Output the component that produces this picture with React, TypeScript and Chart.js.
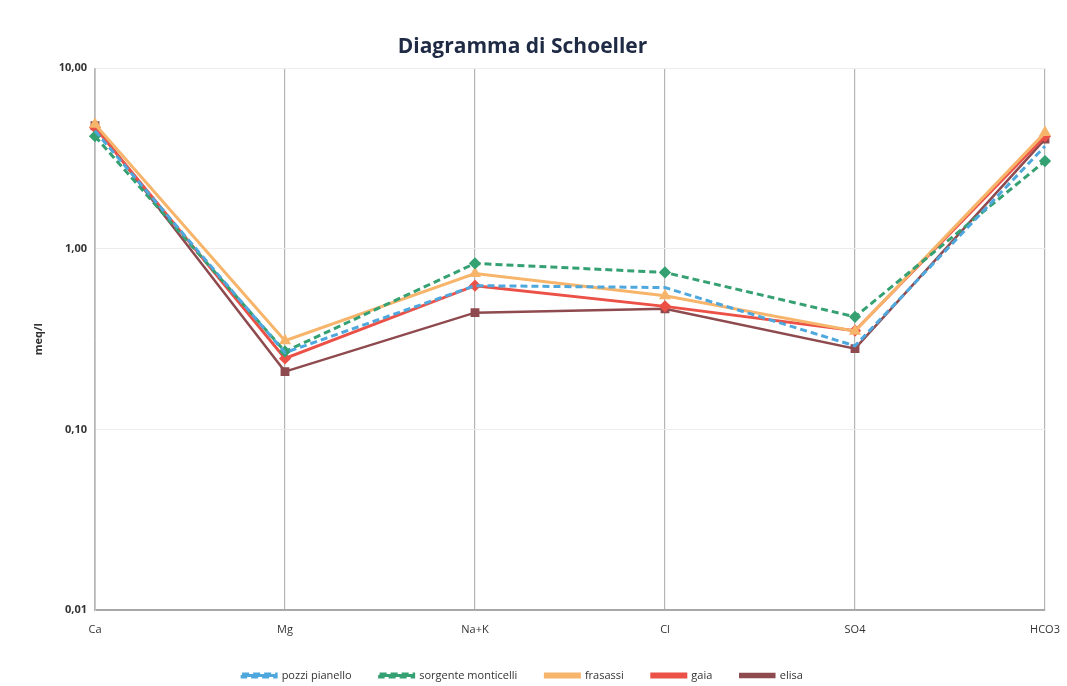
import React, { useEffect, useRef } from "react";
import { Chart, registerables } from "chart.js";

Chart.register(...registerables);

const categories = ["Ca", "Mg", "Na+K", "Cl", "SO4", "HCO3"];
const pozziPianello = [4.5, 0.266, 0.625, 0.61, 0.29, 3.7];
const sorgenteMonticelli = [4.2, 0.27, 0.83, 0.74, 0.42, 3.06];
const frasassi = [4.9, 0.31, 0.73, 0.55, 0.35, 4.4];
const gaia = [4.7, 0.247, 0.625, 0.48, 0.352, 4.2];
const elisa = [4.8, 0.209, 0.443, 0.465, 0.28, 4.05];
const yTicks = [0.01, 0.1, 1, 10];

const legendFitPlugin = {
  id: "legendFit",
  afterInit(chart: any) {
    const lg = chart.legend;
    if (!lg) return;
    const orig = lg.fit.bind(lg);
    lg.fit = () => {
      orig();
      lg.height = 44;
    };
  },
};

export default function App() {
  const ref = useRef<HTMLCanvasElement | null>(null);
  useEffect(() => {
    document.body.style.margin = "0";
    const ctx = ref.current!;
    const font = "'Open Sans', 'Liberation Sans', sans-serif";
    const chart = new Chart(ctx, {
      type: "line",
      plugins: [legendFitPlugin],
      data: {
        labels: categories,
        datasets: [
          {
            label: "pozzi pianello",
            data: pozziPianello,
            borderColor: "#4EA8DE",
            backgroundColor: "#4EA8DE",
            borderDash: [7, 4],
            borderWidth: 3,
            pointRadius: 0,
            pointStyle: "line",
          },
          {
            label: "sorgente monticelli",
            data: sorgenteMonticelli,
            borderColor: "#35A172",
            backgroundColor: "#35A172",
            borderDash: [7, 4],
            borderWidth: 3,
            pointRadius: 4,
            pointStyle: "rectRot",
          },
          {
            label: "frasassi",
            data: frasassi,
            borderColor: "#F6B56B",
            backgroundColor: "#F6B56B",
            borderWidth: 3,
            pointRadius: 4,
            pointStyle: "triangle",
          },
          {
            label: "gaia",
            data: gaia,
            borderColor: "#EC5148",
            backgroundColor: "#EC5148",
            borderWidth: 3,
            pointRadius: 4,
            pointStyle: "rectRot",
          },
          {
            label: "elisa",
            data: elisa,
            borderColor: "#8E4A4E",
            backgroundColor: "#8E4A4E",
            borderWidth: 2.5,
            pointRadius: 4.5,
            pointStyle: "rect",
          },
        ],
      },
      options: {
        animation: false,
        responsive: false,
        maintainAspectRatio: false,
        layout: { padding: { left: 0, right: 22, top: 0, bottom: 0 } },
        plugins: {
          title: {
            display: true,
            text: "Diagramma di Schoeller",
            color: "#1f2a44",
            font: { family: font, size: 21, weight: "bold" },
            padding: { top: 34, bottom: 9 },
          },
          legend: {
            position: "bottom",
            labels: {
              color: "#333",
              font: { family: font, size: 11 },
              boxWidth: 34,
              boxHeight: 3,
              padding: 28,
            },
          },
          tooltip: { enabled: false },
        },
        scales: {
          x: {
            offset: false,
            grid: { color: "#b5b5b5", lineWidth: 1.2, drawTicks: false },
            border: { color: "#a8a8a8", width: 2 },
            ticks: {
              color: "#333",
              font: { family: font, size: 11 },
              padding: 13,
              maxRotation: 0,
            },
            afterFit: (s: any) => {
              s.height = 32;
              s.paddingLeft = 0;
              s.paddingRight = 0;
            },
          },
          y: {
            type: "logarithmic",
            min: 0.01,
            max: 10,
            grid: { color: "#ececec", drawTicks: false },
            border: { color: "#c8c8c8", width: 1 },
            afterBuildTicks: (s: any) => {
              s.ticks = yTicks.map((v) => ({ value: v }));
            },
            ticks: {
              color: "#333",
              font: { family: font, size: 11, weight: "bold" },
              padding: 8,
              callback: (v: any) => Number(v).toFixed(2).replace(".", ","),
            },
            title: {
              display: true,
              text: "meq/l",
              color: "#333",
              font: { family: font, size: 11, weight: "bold" },
              padding: { top: 32, bottom: 0 },
            },
            afterFit: (s: any) => {
              s.width = 95;
            },
          },
        },
      },
    } as any);
    return () => chart.destroy();
  }, []);
  return (
    <div style={{ position: "absolute", left: 0, top: 0, width: 1067, height: 686 }}>
      <canvas ref={ref} width={1067} height={686} style={{ width: 1067, height: 686 }} />
    </div>
  );
}
